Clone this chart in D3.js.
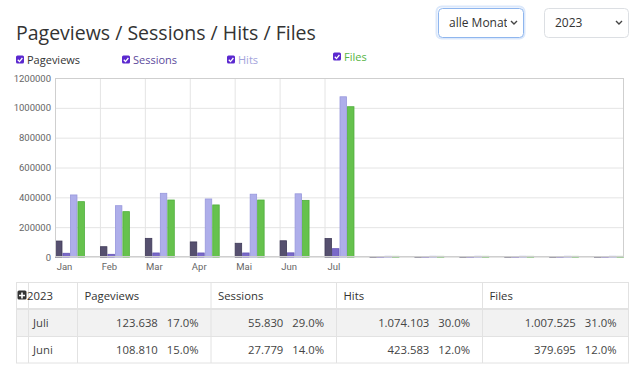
<!DOCTYPE html>
<html>
<head>
<meta charset="utf-8">
<script src="https://cdn.jsdelivr.net/npm/d3@7"></script>
<style>
  html, body { margin: 0; padding: 0; background: #fff; }
  svg { display: block; font-family: "Open Sans", sans-serif; }
</style>
</head>
<body>
<svg id="chart" width="640" height="373"></svg>
<script>
"use strict";

// chart data
var months = ["Jan", "Feb", "Mar", "Apr", "Mai", "Jun", "Jul", "", "", "", "", "", ""];
var seriesNames = ["Pageviews", "Sessions", "Hits", "Files"];
var pageviews = [107000, 69000, 125000, 101000, 92000, 108810, 123638, 4000, 4000, 4000, 4000, 4000, 4000];
var sessions  = [25000, 18000, 27000, 27000, 27000, 27779, 55830, 2000, 2000, 2000, 2000, 2000, 2000];
var hits      = [416000, 344000, 427000, 389000, 421000, 423583, 1074103, 5000, 5000, 5000, 5000, 5000, 5000];
var files     = [371000, 304000, 382000, 349000, 382000, 379695, 1007525, 4500, 4500, 4500, 4500, 4500, 4500];
var yTicks = [0, 200000, 400000, 600000, 800000, 1000000, 1200000];

// table data
var tableYear = "2023";
var tableRows = ["Juli", "Juni"];
var tablePageviews = [["123.638", "17.0%"], ["108.810", "15.0%"]];
var tableSessions  = [["55.830", "29.0%"], ["27.779", "14.0%"]];
var tableHits      = [["1.074.103", "30.0%"], ["423.583", "12.0%"]];
var tableFiles     = [["1.007.525", "31.0%"], ["379.695", "12.0%"]];

var fills   = ["#56506f", "#7a69c9", "#aeaeea", "#66c24d"];
var strokes = ["#3f3a58", "#6454b4", "#9898dc", "#4fae3d"];
var legendColors = ["#333333", "#5b4a9c", "#a3a3dc", "#56b444"];

var svg = d3.select("#chart");

// title
svg.append("text")
  .attr("x", 16).attr("y", 40)
  .attr("font-size", 19.5).attr("fill", "#333")
  .text("Pageviews / Sessions / Hits / Files");

// selects
function drawSelect(x, w, label, focused){
  var g = svg.append("g");
  if (focused){
    g.append("rect").attr("x", x - 1.5).attr("y", 6.5).attr("width", w + 3).attr("height", 32)
      .attr("rx", 5).attr("fill", "none").attr("stroke", "#dbe8fb").attr("stroke-width", 2);
  }
  g.append("rect").attr("x", x + .5).attr("y", 8.5).attr("width", w).attr("height", 29)
    .attr("rx", 4).attr("fill", "#fff").attr("stroke", focused ? "#8fb6ee" : "#dcdfe3");
  g.append("clipPath").attr("id", "clip" + x)
    .append("rect").attr("x", x).attr("y", 8).attr("width", w - 16).attr("height", 30);
  g.append("text").attr("x", x + 11).attr("y", 27).attr("font-size", 12).attr("fill", "#333")
    .attr("clip-path", "url(#clip" + x + ")").text(label);
  g.append("path")
    .attr("d", "M" + (x + w - 12) + ",21 l3,3 l3,-3")
    .attr("fill", "none").attr("stroke", "#444").attr("stroke-width", 1.4);
}
drawSelect(438, 85, "alle Monate", true);
drawSelect(544, 84, "2023", false);

// legend
var legendX = [16, 122, 227, 333];
var legendY = [59, 59, 59, 56];
var legend = svg.append("g").selectAll("g").data(seriesNames).enter().append("g")
  .attr("transform", function(d, i){ return "translate(" + legendX[i] + "," + legendY[i] + ")"; });
legend.append("rect").attr("x", 0).attr("y", -3.5).attr("width", 8).attr("height", 8)
  .attr("rx", 1.5).attr("fill", "#5b28cf");
legend.append("path").attr("d", "M1.8,0.8 L3.5,2.6 L6.4,-1")
  .attr("fill", "none").attr("stroke", "#fff").attr("stroke-width", 1.3);
legend.append("text").attr("x", 11).attr("y", 4.5).attr("font-size", 11)
  .attr("fill", function(d, i){ return legendColors[i]; }).text(function(d){ return d; });

// scales
var xScale = d3.scaleLinear().domain([0, 12.667]).range([55, 624]);
var yScale = d3.scaleLinear().domain([0, 1200000]).range([257, 78]);
var inner = d3.scaleBand().domain(seriesNames).range([0, 0.667]);

// grid
svg.append("g")
  .attr("transform", "translate(55,0)")
  .call(d3.axisRight(yScale).tickValues(yTicks).tickSize(569).tickFormat(""))
  .call(function(g){ g.select(".domain").remove(); g.selectAll("line").attr("stroke", "#e4e4e4"); });

svg.append("g")
  .attr("transform", "translate(0,78)")
  .call(d3.axisBottom(xScale).tickValues([1, 2, 3, 4, 5, 6]).tickSize(179).tickFormat(""))
  .call(function(g){ g.select(".domain").remove(); g.selectAll("line").attr("stroke", "#e4e4e4"); });

// bars
var values = [pageviews, sessions, hits, files];
var series = svg.append("g").selectAll("g").data(values).enter().append("g")
  .attr("fill", function(d, i){ return fills[i]; })
  .attr("stroke", function(d, i){ return strokes[i]; });
series.selectAll("rect")
  .data(function(d, i){ return d.map(function(v, m){ return {v: v, m: m, s: seriesNames[i]}; }); })
  .enter().append("rect")
  .attr("x", function(d){ return xScale(d.m + inner(d.s)) + 0.5; })
  .attr("width", xScale(inner.bandwidth()) - xScale(0) - 1)
  .attr("y", function(d){ return yScale(d.v); })
  .attr("height", function(d){ return yScale(0) - yScale(d.v); })
  .attr("stroke-width", 0.8);

// frame
svg.append("rect").attr("x", 55.5).attr("y", 78.5).attr("width", 568).attr("height", 178)
  .attr("fill", "none").attr("stroke", "#cfcfcf");

// y axis labels
svg.append("g")
  .attr("transform", "translate(55,0)")
  .call(d3.axisLeft(yScale).tickValues(yTicks).tickSize(0).tickPadding(4).tickFormat(d3.format("d")))
  .call(function(g){
    g.select(".domain").remove();
    g.selectAll("text").attr("font-size", 9.5).attr("fill", "#666").attr("font-family", "Roboto, sans-serif");
  });

// x axis labels
svg.append("g")
  .attr("transform", "translate(0,257)")
  .call(d3.axisBottom(xScale).tickValues(d3.range(7).map(function(i){ return i + 0.2; }))
    .tickSize(0).tickPadding(6).tickFormat(function(d){ return months[Math.round(d - 0.2)]; }))
  .call(function(g){
    g.select(".domain").remove();
    g.selectAll("text").attr("font-size", 9.5).attr("fill", "#666").attr("font-family", "Roboto, sans-serif");
  });

// table
var tbl = svg.append("g").attr("font-size", 11.3).attr("fill", "#444");
var colX = [16, 77.5, 211, 336.5, 482.5, 629];
var rowY = [282, 309, 336, 363];

tbl.append("rect").attr("x", 16).attr("y", 309).attr("width", 613).attr("height", 27).attr("fill", "#f2f2f2");
tbl.append("rect").attr("x", 16.5).attr("y", 282.5).attr("width", 612).attr("height", 80.5)
  .attr("fill", "none").attr("stroke", "#e2e2e2");
tbl.append("line").attr("x1", 16).attr("x2", 629).attr("y1", 309).attr("y2", 309)
  .attr("stroke", "#e2e2e2").attr("stroke-width", 2);
tbl.append("line").attr("x1", 16).attr("x2", 629).attr("y1", 336.5).attr("y2", 336.5)
  .attr("stroke", "#e2e2e2");
tbl.selectAll(".vline").data(colX.slice(1, 5).concat([28.5])).enter().append("line")
  .attr("x1", function(d){ return d; }).attr("x2", function(d){ return d; })
  .attr("y1", 282).attr("y2", 363).attr("stroke", "#e2e2e2");

// header
tbl.append("rect").attr("x", 17.5).attr("y", 290.5).attr("width", 9).attr("height", 9).attr("rx", 1.5).attr("fill", "#333");
tbl.append("path").attr("d", "M22,292.5 v6 M19,295.5 h6").attr("stroke", "#fff").attr("stroke-width", 1.6);
tbl.append("text").attr("x", 27).attr("y", 300).attr("fill", "#333").text(tableYear);
tbl.selectAll(".head").data(seriesNames).enter().append("text")
  .attr("x", function(d, i){ return colX[i + 1] + 7; }).attr("y", 300).attr("fill", "#333")
  .text(function(d){ return d; });

// body rows
tbl.selectAll(".rowlabel").data(tableRows).enter().append("text")
  .attr("x", 33).attr("y", function(d, i){ return rowY[i + 1] + 18; }).text(function(d){ return d; });

var cols = [tablePageviews, tableSessions, tableHits, tableFiles];
cols.forEach(function(col, c){
  col.forEach(function(cell, r){
    var right = colX[c + 2] - 12.5;
    var pct = tbl.append("text").attr("x", right).attr("y", rowY[r + 1] + 18)
      .attr("text-anchor", "end").text(cell[1]);
    var w = pct.node().getComputedTextLength();
    tbl.append("text").attr("x", right - w - 9).attr("y", rowY[r + 1] + 18)
      .attr("text-anchor", "end").text(cell[0]);
  });
});
</script>
</body>
</html>
